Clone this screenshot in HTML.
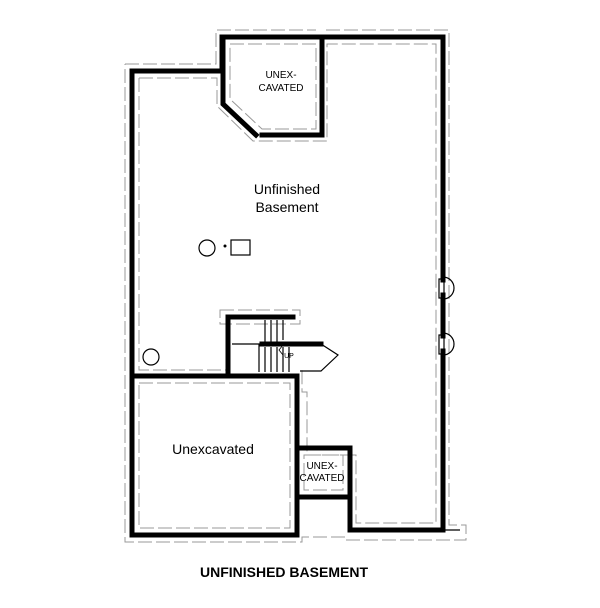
<!DOCTYPE html>
<html><head><style>html,body{margin:0;padding:0;background:#fff}svg{display:block}</style></head>
<body>
<svg width="600" height="608" viewBox="0 0 600 608" xmlns="http://www.w3.org/2000/svg" font-family="Liberation Sans, Arial, sans-serif">
<g fill="none" stroke="#999" stroke-width="1" stroke-dasharray="14,4">
  <path d="M125,64 H216 V30 H316"/>
  <path d="M326,30 H449 V525 H466 V540 H345 V537 H302 V542 H125 V64"/>
  <path d="M139,78 H217 V106 L253,141 H327 V44 H436 V523 H356 V455 H307 V392 H302 V370"/>
  <path d="M139,78 V370 H228"/>
  <path d="M230,44 H316 V129 H262 L230,99 Z"/>
  <path d="M139,383 H290 V528 H139 Z"/>
  <path d="M304,455 H343 V490 H304 Z"/>
  <path d="M220,310 H300 V324 H220 Z"/>
</g>
<g fill="none" stroke="#000" stroke-width="5" stroke-linecap="square">
  <path d="M132,71 H222 V37 H443 V280"/>
  <path d="M443,295 V336"/>
  <path d="M443,351 V530"/>
  <path d="M443,530 H350 V448 H297 V535 H132 V71"/>
  <path d="M297,497 H350"/>
  <path d="M132,376 H297 V448"/>
  <path d="M223,37 V104 L256,135 M262,135 H322 V37"/>
  <path d="M228,376 V317 H293"/>
  <path d="M262,344 H321"/>
</g>
<g fill="none" stroke="#000" stroke-width="1.2">
  <path d="M321,344 L338,355 L321,371 H300"/>
  <path d="M443,530 H460"/>
  <path d="M443,277 A10,10 0 0 1 443,299"/>
  <path d="M443,333 A10,10 0 0 1 443,355"/>
  <rect x="439" y="279" width="5" height="19"/>
  <rect x="439" y="335" width="5" height="19"/>
  <circle cx="207" cy="248" r="8"/>
  <rect x="231" y="240" width="19" height="15"/>
  <circle cx="151" cy="357" r="8"/>
  <path d="M259,344 V372 M265,347 V372 M271,347 V372 M277,347 V372 M283,347 V372 M289,347 V372"/>
  <path d="M265,320 V344 M271,320 V344 M277,320 V344 M283,320 V340 M232,344 H262"/>
  <path d="M283,345 L279,350 L283,355" stroke-width="0.8"/>
</g>
<circle cx="225" cy="246" r="1.5" fill="#000"/>
<g fill="#000" text-anchor="middle">
  <text x="281" y="78" font-size="10">UNEX-</text>
  <text x="281" y="91" font-size="10">CAVATED</text>
  <text x="287" y="194" font-size="14">Unfinished</text>
  <text x="287" y="212" font-size="14">Basement</text>
  <text x="213" y="454" font-size="14">Unexcavated</text>
  <text x="322" y="469" font-size="10">UNEX-</text>
  <text x="322" y="481" font-size="10">CAVATED</text>
  <text x="289" y="358" font-size="7">UP</text>
  <text x="284" y="577" font-size="14" font-weight="bold">UNFINISHED BASEMENT</text>
</g>
</svg>
</body></html>
